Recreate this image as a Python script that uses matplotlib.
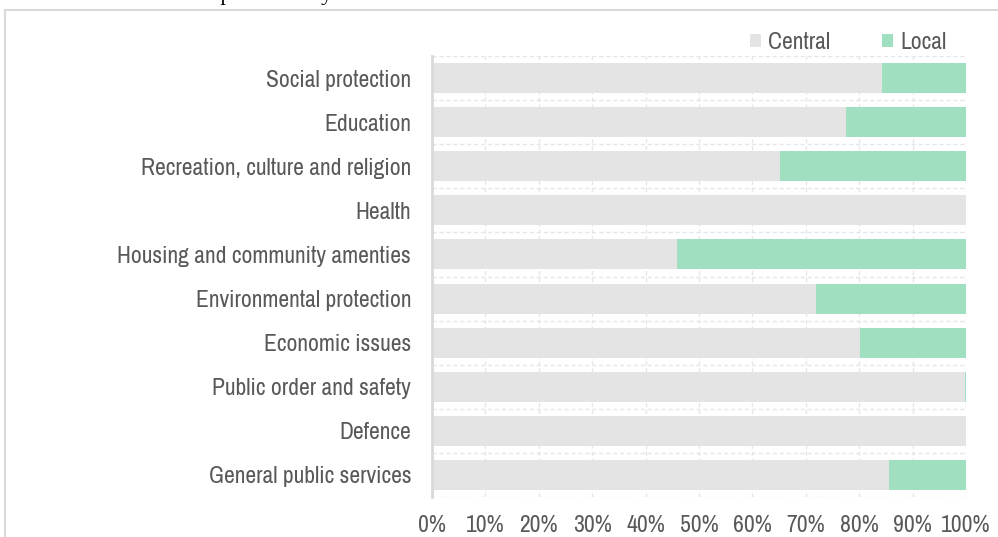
import matplotlib
matplotlib.use("Agg")
import matplotlib.pyplot as plt
from matplotlib.patches import Rectangle
from matplotlib.ticker import FuncFormatter

categories = [
    "Social protection",
    "Education",
    "Recreation, culture and religion",
    "Health",
    "Housing and community amenties",
    "Environmental protection",
    "Economic issues",
    "Public order and safety",
    "Defence",
    "General public services",
]
central = [84.3, 77.5, 65.2, 100.0, 45.9, 71.9, 80.1, 99.8, 100.0, 85.6]
local = [15.7, 22.5, 34.8, 0.0, 54.1, 28.1, 19.9, 0.2, 0.0, 14.4]
x_ticks = list(range(0, 101, 10))

C_CENTRAL = "#e4e4e4"
C_LOCAL = "#a1dfc1"
TXT = "#595959"
GRID = "#e6e6e6"
FS = 17

plt.rcParams["font.family"] = ["Archivo Narrow", "DejaVu Sans"]

fig = plt.figure(figsize=(9.98, 5.37), dpi=100)
ax = fig.add_axes([432 / 998, 1 - 497 / 537, 534 / 998, 441 / 537])

y = list(range(len(categories)))
ax.barh(y, central, height=0.68, color=C_CENTRAL, zorder=2, label="Central")
ax.barh(y, local, left=central, height=0.68, color=C_LOCAL, zorder=2, label="Local")

ax.set_xlim(0, 100)
ax.set_ylim(len(categories) - 0.5, -0.5)
ax.set_yticks(y)
ax.set_yticklabels(categories)
ax.set_xticks(x_ticks)
ax.xaxis.set_major_formatter(FuncFormatter(lambda v, _: f"{v:.0f}%"))
ax.tick_params(axis="both", length=0, colors=TXT, labelsize=FS)
ax.tick_params(axis="y", pad=15)
ax.tick_params(axis="x", pad=13)

# dashed grid: one vertical per tick, one horizontal between categories
for v in x_ticks:
    ax.axvline(v, color=GRID, lw=1, ls=(0, (3, 2)), zorder=1)
for b in range(len(categories) + 1):
    ax.axhline(b - 0.5, color=GRID, lw=1, ls=(0, (3, 2)), zorder=1)

for s in ("top", "right", "bottom"):
    ax.spines[s].set_visible(False)
ax.spines["left"].set_color("#d9d9d9")
ax.spines["left"].set_linewidth(2)
ax.spines["left"].set_zorder(3)

leg = fig.legend(loc="upper right", bbox_to_anchor=(958 / 998, 1 - 20 / 537),
                 ncol=2, frameon=False, fontsize=FS, handlelength=0.45,
                 handleheight=0.45, handletextpad=0.3, columnspacing=2.2,
                 borderpad=0)
for t in leg.get_texts():
    t.set_color(TXT)

# outer frame of the chart area
fig.patches.append(Rectangle((5 / 998, -0.2), 1.2, 1.2 - 10 / 537,
                             transform=fig.transFigure, fill=False,
                             ec="#d9d9d9", lw=1.5))

# title sitting above the frame, mostly outside the canvas
fig.text(119 / 998, 1.0, "Share of expenditure by function",
         family="Liberation Serif", fontsize=16, color="black",
         ha="left", va="baseline")

fig.savefig("out.png", dpi=100)
